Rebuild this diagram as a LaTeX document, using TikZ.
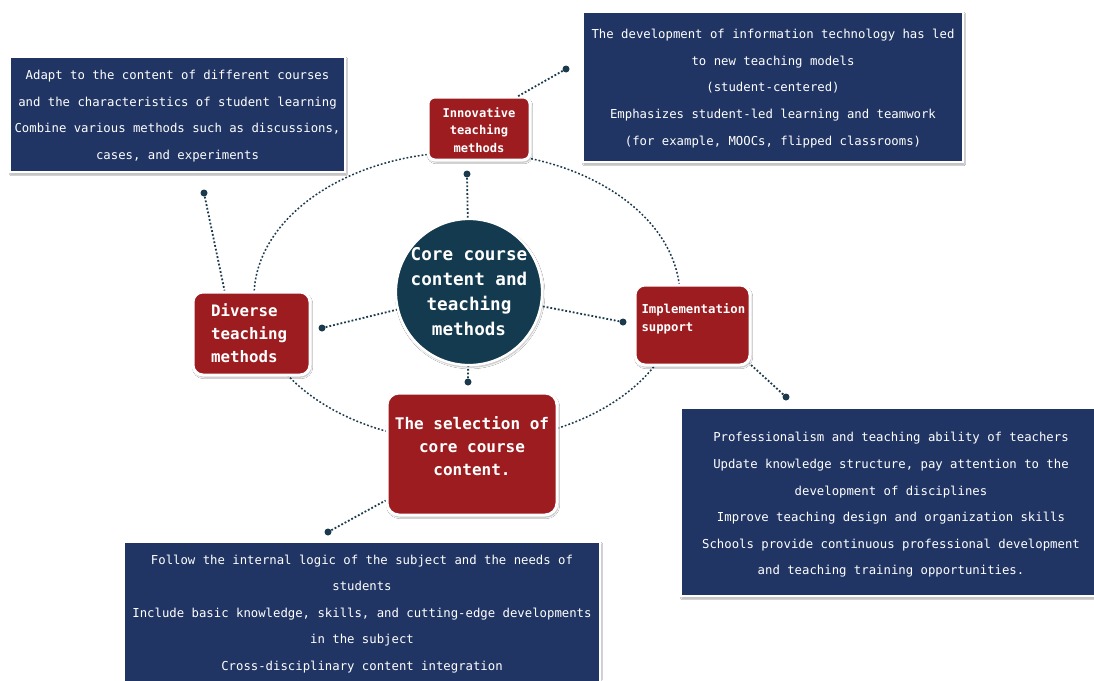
\documentclass[tikz,border=0pt]{standalone}
\usepackage{fontspec}
\setmonofont{DejaVu Sans Mono}
\usetikzlibrary{shadows.blur}
\definecolor{boxblue}{HTML}{213564}
\definecolor{boxred}{HTML}{9C1C20}
\definecolor{corecol}{HTML}{143A4F}
\definecolor{linecol}{HTML}{1B3A4D}
\begin{document}
\begin{tikzpicture}[x=1pt,y=-1pt,
  infobox/.style={rectangle, fill=boxblue, draw=white, line width=2.5pt,
    blur shadow={shadow xshift=1pt, shadow yshift=-2pt, shadow opacity=35, shadow blur steps=6},
    inner sep=0pt},
  infotext/.style={text=white, align=center, font=\ttfamily\fontsize{12.3}{26.6}\selectfont},
  redbox/.style={rectangle, fill=boxred, draw=white, line width=3pt,
    blur shadow={shadow xshift=1pt, shadow yshift=-2pt, shadow opacity=35, shadow blur steps=6},
    inner sep=0pt},
  conn/.style={draw=linecol, line width=1.8pt, dotted},
  dotend/.style={circle, fill=linecol, inner sep=0pt, minimum size=7pt}]
\useasboundingbox (0,0) rectangle (1094,680);
\clip (0,0) rectangle (1094,680);
\fill[white] (0,0) rectangle (1094,680);

% dotted ellipse
\draw[conn, line width=1.5pt] (467,297) ellipse [x radius=213, y radius=145];

% red boxes
\node[redbox, rounded corners=7pt, minimum width=102pt, minimum height=63pt] (innov) at (479,128.5) {};
\node[redbox, rounded corners=10pt, minimum width=117pt, minimum height=83pt,
  text width=81pt, inner xsep=18pt, align=left, text=white,
  font=\ttfamily\bfseries\fontsize{15.8}{23}\selectfont] (diverse) at (251.5,333.5) {Diverse\\teaching\\methods};
\node[redbox, rounded corners=10pt, minimum width=115pt, minimum height=80pt] (impl) at (692.5,325) {};
\node[text width=105pt, align=left, text=white, inner sep=0pt,
  font=\ttfamily\bfseries\fontsize{12.3}{18}\selectfont] (impltext) at (694,319) {Implementation\\support};
\node[redbox, rounded corners=12pt, minimum width=170pt, minimum height=122pt] (select) at (472,454) {};
\node[align=center, text=white, inner sep=0pt,
  font=\ttfamily\bfseries\fontsize{16}{23}\selectfont] (selecttext) at (472,446) {The selection of\\core course\\content.};
\node[align=center, text=white, inner sep=0pt,
  font=\ttfamily\bfseries\fontsize{12.1}{17.5}\selectfont] (innovtext) at (479,130) {Innovative\\teaching\\methods};

% core circle
\node[circle, fill=corecol, draw=white, line width=2.5pt, minimum size=142pt, inner sep=0pt,
  blur shadow={shadow xshift=1pt, shadow yshift=-2pt, shadow opacity=30, shadow blur steps=6},
  align=center, text=white, font=\ttfamily\bfseries\fontsize{17.6}{25}\selectfont] (core) at (469,292)
  {Core course\\content and\\teaching\\methods};

% info boxes
\node[infobox, minimum width=335pt, minimum height=115pt] (tlbox) at (177.5,114.5) {};
\node[infotext] (tltext) at (177.5,116) {Adapt to the content of different courses\\and the characteristics of student learning\\Combine various methods such as discussions,\\cases, and experiments};

\node[infobox, minimum width=380pt, minimum height=150pt] (trbox) at (773,87) {};
\node[infotext] (trtext) at (773,88.5) {The development of information technology has led\\to new teaching models\\(student-centered)\\Emphasizes student-led learning and teamwork\\(for example, MOOCs, flipped classrooms)};

\node[infobox, minimum width=414pt, minimum height=188pt] (rbox) at (888,502) {};
\node[infotext] (rtext) at (891,505) {Professionalism and teaching ability of teachers\\Update knowledge structure, pay attention to the\\development of disciplines\\Improve teaching design and organization skills\\Schools provide continuous professional development\\and teaching training opportunities.};

\node[infobox, minimum width=476pt, minimum height=160pt] (bbox) at (362,622) {};
\node[infotext] (btext) at (362,614) {Follow the internal logic of the subject and the needs of\\students\\Include basic knowledge, skills, and cutting-edge developments\\in the subject\\Cross-disciplinary content integration};

% connector dots
\node[dotend] (p1) at (467,174) {};
\node[dotend] (p2) at (468,382) {};
\node[dotend] (p3) at (322,328) {};
\node[dotend] (p4) at (623,322) {};
\node[dotend] (p5) at (204,193) {};
\node[dotend] (p6) at (566,69) {};
\node[dotend] (p7) at (786,397) {};
\node[dotend] (p8) at (328,532) {};

\draw[conn] (p1.center) -- (core);
\draw[conn] (p2.center) -- (core);
\draw[conn] (p3.center) -- (core);
\draw[conn] (p4.center) -- (core);
\draw[conn] (p5.center) -- ([xshift=33pt]diverse.north west);
\draw[conn] (p6.center) -- ([xshift=-14pt,yshift=-1pt]innov.north east);
\draw[conn] (p7.center) -- ([xshift=-2pt,yshift=3pt]impl.south east);
\draw[conn] (p8.center) -- ([yshift=16pt]select.south west);
\end{tikzpicture}
\end{document}
